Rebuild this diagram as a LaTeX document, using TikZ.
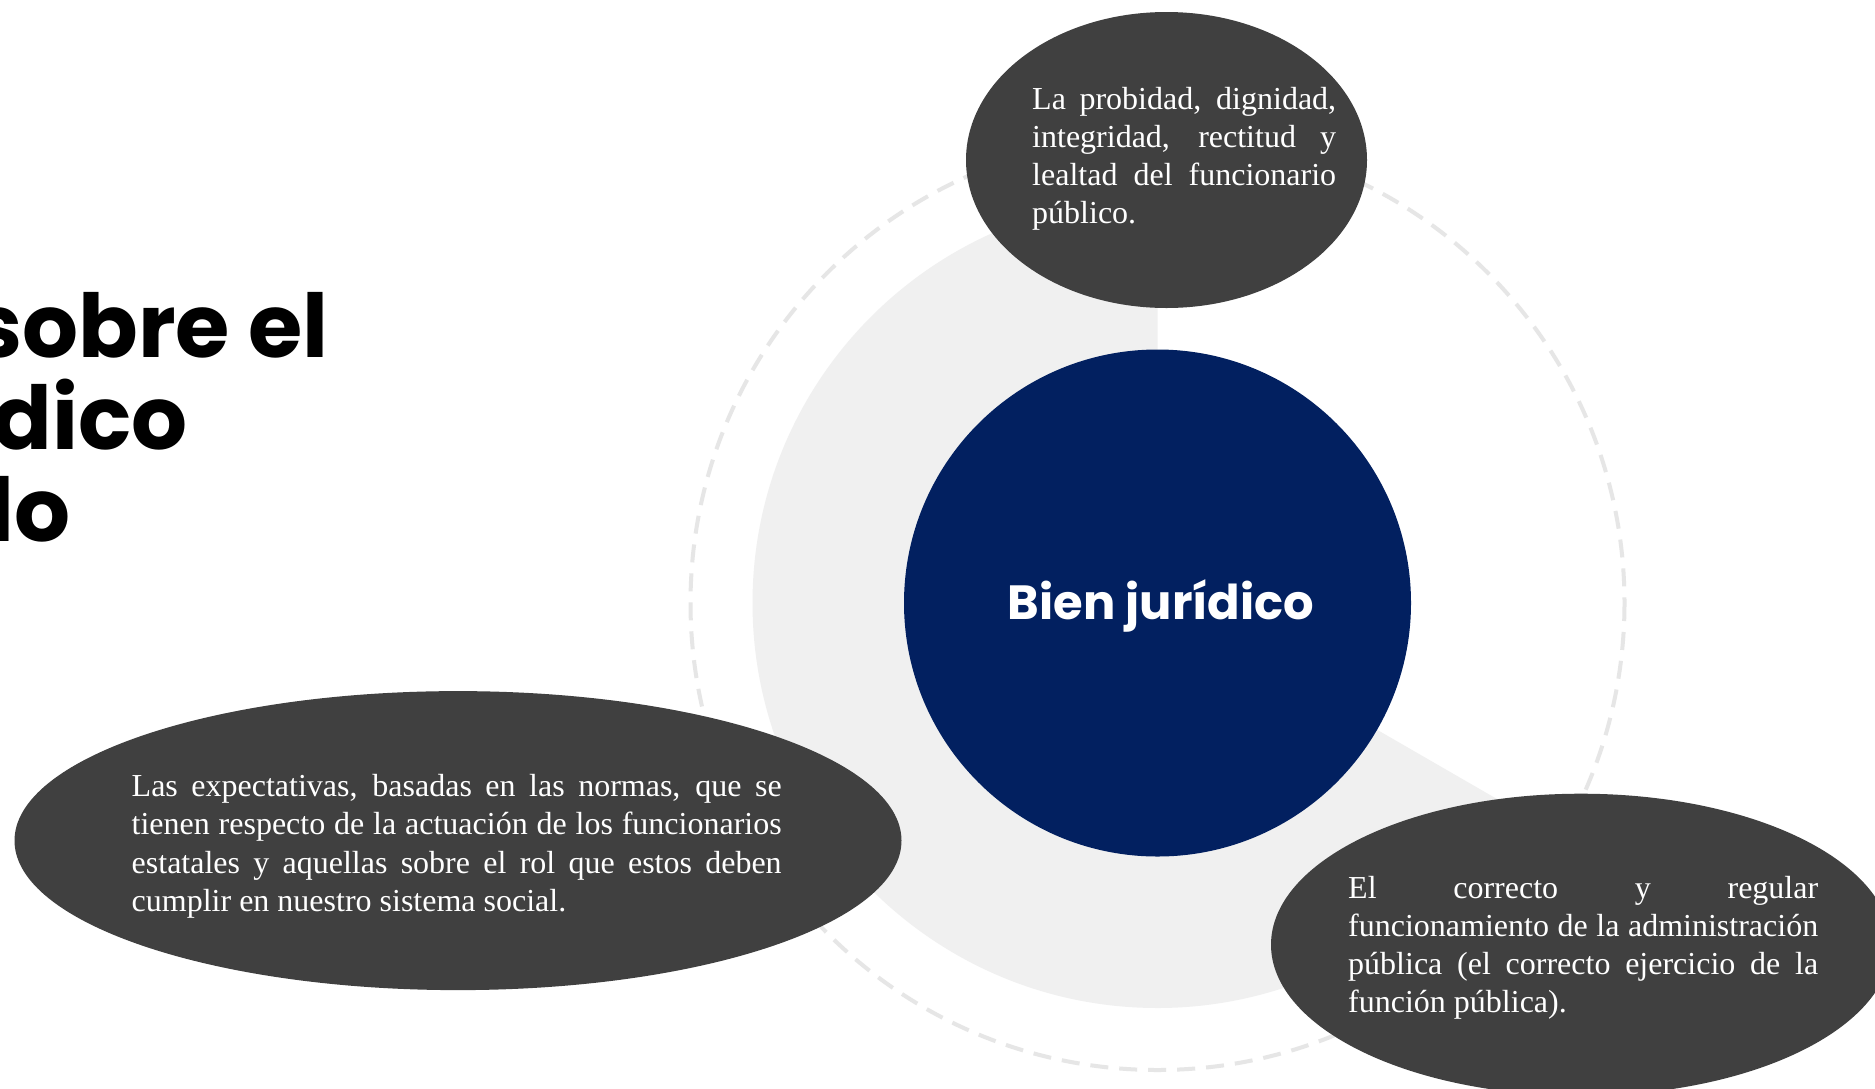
\documentclass[tikz,border=0pt]{standalone}
\usepackage{fontspec}
\setmainfont{Liberation Serif}
\newfontfamily\poppins{Poppins}
\usetikzlibrary{shapes.geometric}
\definecolor{darkfill}{HTML}{404040}
\definecolor{navy}{HTML}{022060}
\definecolor{wedgegray}{HTML}{F0F0F0}
\definecolor{dashgray}{HTML}{E6E6E6}
\tikzset{
  blob/.style={ellipse, fill=darkfill, draw=none, inner sep=0pt},
  bodytext/.style={anchor=base west, inner sep=0pt, text=white,
    font=\fontsize{32}{38.3}\selectfont},
  titletext/.style={anchor=base east, inner sep=0pt, text=black,
    font=\poppins\bfseries\fontsize{88}{92}\selectfont},
}
\newcommand\justlines[2]{\parbox[t]{#1}{\tolerance=10000\hbadness=10000\hyphenpenalty=10000\exhyphenpenalty=10000\parindent=0pt #2}}
\begin{document}
\begin{tikzpicture}[x=1pt,y=-1pt]
\useasboundingbox (0,0) rectangle (1875,1088);
\clip (0,0) rectangle (1875,1088);
\fill[white] (0,0) rectangle (1875,1088);
\coordinate (C) at (1157.5,603);
% dashed ring
\draw[dashgray, line width=4pt, dash pattern=on 18pt off 11pt] (C) circle[radius=467];
% gray sector
\fill[wedgegray] (C) -- ++(-90:405) arc[start angle=-90, end angle=-330, radius=405] -- cycle;
% center circle
\node[circle, fill=navy, minimum size=507pt, inner sep=0pt] (core) at (C) {};
\node[anchor=base, inner sep=0pt, text=white, font=\poppins\bfseries\fontsize{48}{55}\selectfont] (coretext) at (1161,619) {Bien jurídico};
% ellipses
\node[blob, minimum width=401pt, minimum height=296pt] (topblob) at (1166.5,160) {};
\node[blob, minimum width=887pt, minimum height=299pt] (leftblob) at (458,840.6) {};
\node[blob, minimum width=620pt, minimum height=302pt] (rightblob) at (1581,944.7) {};
% texts
\node[bodytext] (toptext) at (1032,109) {\justlines{304pt}{La probidad, dignidad,\linebreak integridad, rectitud y\linebreak lealtad del funcionario\linebreak público.}};
\node[bodytext] (lefttext) at (131.5,796.5) {\justlines{650pt}{Las expectativas, basadas en las normas, que se\linebreak tienen respecto de la actuación de los funcionarios\linebreak estatales y aquellas sobre el rol que estos deben\linebreak cumplir en nuestro sistema social.}};
\node[bodytext] (righttext) at (1348,898) {\justlines{470pt}{El correcto y regular\linebreak funcionamiento de la administración\linebreak pública (el correcto ejercicio de la\linebreak función pública).}};
% title fragments
\node[titletext] (title1) at (329,357.7) {sobre el};
\node[titletext] (title2) at (188,449.3) {dico};
\node[titletext] (title3) at (71,541.7) {lo};
\end{tikzpicture}
\end{document}
